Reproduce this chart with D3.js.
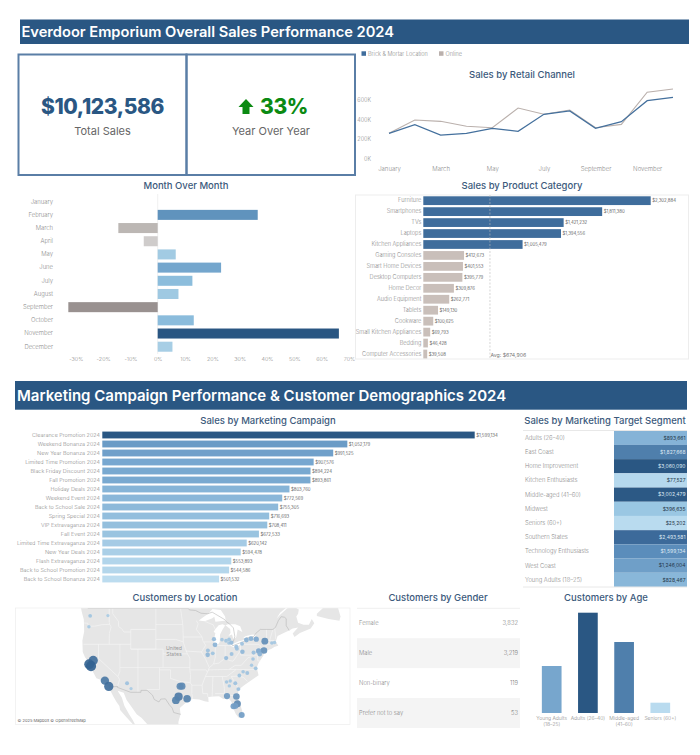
<!DOCTYPE html>
<html><head><meta charset="utf-8">
<script src="https://cdn.jsdelivr.net/npm/d3@7/dist/d3.min.js"></script>
<style>html,body{margin:0;padding:0;background:#fff}svg{display:block}text{font-family:Inter,"Noto Sans",sans-serif}</style>
</head><body><svg id="c" width="700" height="755"></svg>
<script>
const months=["January","February","March","April","May","June","July","August","September","October","November","December"];
const brick=[259,348,242,259,310,280,454,488,310,379,593,627].map(v=>v*1000);
const online=[259,396,382,331,317,518,454,498,317,351,679,713].map(v=>v*1000);
const mom=[null,36.6,-14.4,-5.1,6.6,23.2,12.7,7.6,-32.7,13.2,66.3,5.4];
const products=["Furniture","Smartphones","TVs","Laptops","Kitchen Appliances","Gaming Consoles","Smart Home Devices","Desktop Computers","Home Decor","Audio Equipment","Tablets","Cookware","Small Kitchen Appliances","Bedding","Computer Accessories"];
const productSales=[2302884,1811380,1421232,1394556,1005479,412673,401553,395779,309876,262771,149130,100625,69793,46428,39508];
const productAvg=674906;
const campaigns=["Clearance Promotion 2024","Weekend Bonanza 2024","New Year Bonanza 2024","Limited Time Promotion 2024","Black Friday Discount 2024","Fall Promotion 2024","Holiday Deals 2024","Weekend Event 2024","Back to School Sale 2024","Spring Special 2024","VIP Extravaganza 2024","Fall Event 2024","Limited Time Extravaganza 2024","New Year Deals 2024","Flash Extravaganza 2024","Back to School Promotion 2024","Back to School Bonanza 2024"];
const campaignSales=[1599134,1052179,991525,907576,894224,893861,803760,772569,755305,716693,708411,672533,620142,594478,553893,544586,501532];
const segments=["Adults (26–40)","East Coast","Home Improvement","Kitchen Enthusiasts","Middle-aged (41–60)","Midwest","Seniors (60+)","Southern States","Technology Enthusiasts","West Coast","Young Adults (18–25)"];
const segmentSales=[893661,1827668,3060090,77527,3002479,396635,25202,2493581,1599134,1246004,828467];
const genders=["Female","Male","Non-binary","Prefer not to say"];
const genderCounts=[3832,3219,119,53];
const ages=["Young Adults (18–25)","Adults (26–40)","Middle-aged (41–60)","Seniors (60+)"];
const ageCounts=[1485,3169,2243,326];
// customer locations: [lon, lat, customers]
const cities=[[-122.33,47.61,55],[-117.4,47.66,40],[-122.68,45.52,45],[-121.49,38.58,330],[-122.6,37.77,380],[-122.1,37.34,400],[-118.24,34.05,270],[-117.16,32.72,330],[-112.07,33.45,60],[-110.97,32.22,40],[-97.33,32.75,190],[-96.8,32.78,190],[-97.74,30.27,260],[-98.49,29.42,230],[-95.37,29.76,220],[-87.9,43.04,70],[-87.6,41.9,90],[-85.67,42.96,50],[-84.55,42.73,55],[-83.69,43.01,55],[-83.74,42.28,50],[-83.05,42.33,70],[-81.69,41.5,65],[-81.52,41.08,60],[-80.09,42.13,60],[-78.88,42.89,90],[-77.61,43.16,90],[-76.15,43.05,110],[-73.76,42.65,180],[-71.8,42.26,50],[-71.06,42.36,45],[-74,40.71,170],[-75.47,40.6,110],[-75.16,39.95,90],[-76.88,40.27,65],[-79.99,40.44,80],[-83,39.96,60],[-84.51,39.1,70],[-89.59,40.69,60],[-89.65,39.78,80],[-88.24,40.12,55],[-77.04,38.9,50],[-77.44,37.54,45],[-76.29,36.85,55],[-79.79,36.07,50],[-78.64,35.78,60],[-80.84,35.23,55],[-84.39,33.75,50],[-83.38,33.96,45],[-81.97,33.47,60],[-83.63,32.84,45],[-81.1,32.08,60],[-84.28,30.44,150],[-81.66,30.33,170],[-81.38,28.54,190],[-81.95,28.04,130],[-82.46,27.95,140],[-80.19,25.76,140]];
const landRing=[[-125,51],[-125,49.5],[-124.7,48.4],[-124.1,46.9],[-124,44.6],[-124.5,42.8],[-124.4,40.4],[-123.8,39.3],[-122.5,37.8],[-121.9,36.6],[-120.6,34.6],[-118.5,34],[-117.2,32.6],[-116,30.5],[-115,29],[-114.2,28],[-114,27],[-112.5,25.5],[-110,23],[-109.5,22.8],[-110.5,24.5],[-111.5,26],[-112.8,28],[-113.5,30],[-114.7,31.7],[-113,31.2],[-112.2,29.5],[-110.9,27.9],[-109.4,26],[-108,25],[-106.5,23.5],[-105.5,22],[-105,20],[-97.8,20],[-97.7,22],[-97.8,24],[-97.2,26],[-97.4,27.5],[-96,28.6],[-94.7,29.4],[-93.8,29.7],[-92,29.6],[-90.5,29.2],[-89.4,29],[-89.5,30.2],[-88,30.3],[-86.5,30.4],[-85.3,29.7],[-84,30],[-83,29],[-82.7,27.8],[-81.8,26],[-81,25.1],[-80.3,25.3],[-80,26.7],[-80.6,28.4],[-81.4,30.3],[-81,32],[-79.5,33],[-77.9,33.9],[-76.5,34.7],[-75.5,35.3],[-76,37],[-75.5,38],[-75,38.6],[-74.1,39.7],[-74,40.5],[-72,41],[-71,41.5],[-70,41.7],[-70.7,42.6],[-70.2,43.7],[-68.5,44.3],[-67,44.8],[-66,45.2],[-64.5,45.4],[-66,44.2],[-65.5,43.5],[-64,44.3],[-61,45.2],[-60,46.2],[-60.7,47],[-61.5,45.9],[-63,45.9],[-64.5,46.3],[-65,47.5],[-64.5,48],[-64.3,48.8],[-65.5,49.2],[-67.5,49],[-69.5,47.8],[-70.5,47.1],[-69.5,48.2],[-67.5,49.3],[-66,50.2],[-60,50.3],[-55,51]];
const newfoundland=[[-59.3,47.6],[-56,47],[-53,46.7],[-52.7,47.5],[-53.5,49.3],[-56,50],[-59.3,48]];
const lakes=[[[-92.1,46.75],[-90.5,46.6],[-88.5,47.1],[-87.8,47.45],[-87.5,46.5],[-85,46.7],[-84.6,46.5],[-84.8,47.5],[-86,48.7],[-88.3,48.9],[-89.5,48],[-91,47.3]],
[[-87.6,41.65],[-87,41.7],[-86.3,42.5],[-86.2,44],[-85.5,45],[-84.8,45.75],[-85.5,46],[-86.6,45.8],[-87.6,45],[-88,44.5],[-87.5,44.3],[-87.9,43],[-87.8,42.3]],
[[-84.7,45.8],[-83.4,45.1],[-83.3,44.3],[-83.9,43.7],[-82.9,44],[-82.45,43],[-81.7,43.5],[-81.3,45],[-80,44.5],[-80.6,45.6],[-82,46],[-84,46]],
[[-83.4,41.75],[-82.5,41.4],[-81.5,41.5],[-79,42.7],[-79.5,42.9],[-81,42.65],[-82.5,42.1],[-83.1,42.1]],
[[-79.75,43.3],[-79,43.25],[-76.5,43.5],[-76.2,44],[-77.5,43.95],[-79.2,43.65]]];
const countryLines=[[[-123,49],[-95.15,49],[-94.6,48.7],[-93,48.6],[-91.5,48.1],[-89.6,48],[-88.4,48.3],[-84.9,46.9],[-84.5,46.5],[-83.6,46.1],[-82.5,45.3],[-82.1,43.6],[-82.5,42.6],[-83.1,42.1],[-82.7,41.7],[-78.9,42.8],[-79,43.3],[-76.8,43.6],[-76.3,44.2],[-75,45],[-71.5,45],[-70.8,45.4],[-70.3,46.2],[-70,46.7],[-69.2,47.45],[-68.3,47.35],[-67.8,47.07],[-67.8,45.7],[-67.4,45.3],[-67,44.8]],
[[-117.1,32.53],[-114.7,32.72],[-114.8,32.5],[-111.07,31.33],[-108.2,31.33],[-108.2,31.78],[-106.5,31.78],[-105,30.65],[-104.5,29.6],[-103.2,29],[-102.7,29.7],[-101.4,29.77],[-100.3,28.3],[-99.5,27.5],[-99.1,26.4],[-97.15,25.95]]];
const stateLines=[[[-124,46.25],[-123,46.2],[-122.8,45.65],[-121,45.65],[-119,45.93],[-116.92,46]],[[-117.03,49],[-117.03,46.4],[-116.92,46],[-116.5,45.5],[-117,44.2],[-117.03,42]],[[-124.2,42],[-111.05,42]],[[-120,42],[-120,39],[-114.63,35],[-114.05,36.2],[-114.05,42]],[[-114.63,35],[-114.15,34.3],[-114.7,32.72]],[[-114.05,37],[-94.62,37]],[[-116.05,49],[-116.05,48],[-114.5,46.6],[-114.4,45.55],[-113.5,45.1],[-113,44.5],[-111.05,44.5]],[[-111.05,45],[-104.05,45],[-104.05,41],[-111.05,41],[-111.05,45]],[[-111.05,41],[-109.05,41],[-109.05,31.33]],[[-109.05,41],[-102.05,41],[-102.05,37]],[[-103.04,37],[-103.04,32],[-106.6,32]],[[-103,36.5],[-100,36.5],[-100,34.56],[-97,33.8],[-94.5,33.6]],[[-104.05,49],[-104.05,45]],[[-104.05,45.94],[-96.56,45.94]],[[-104.05,43],[-98.5,43],[-96.45,42.5]],[[-102.05,40],[-95.3,40]],[[-97.2,49],[-96.56,45.94],[-96.45,43.5],[-96.45,42.5],[-95.9,41.2],[-95.3,40],[-94.6,39.1],[-94.62,36.5],[-94.43,35.4],[-94.5,33.6],[-94.04,33],[-94.04,31],[-93.8,29.7]],[[-96.45,43.5],[-91.2,43.5]],[[-95.77,40.58],[-91.4,40.4]],[[-94.62,36.5],[-90.15,36.5],[-89.7,36]],[[-94.04,33],[-91.2,33]],[[-92.8,46.7],[-92.3,46.1],[-92.8,45],[-91.2,43.5],[-91,42.7],[-90.2,41.8],[-91.1,40.7],[-91.4,40.4],[-90.2,38.8],[-89.2,37],[-89.7,36],[-90.3,35],[-91.2,33],[-91,31],[-89.7,31],[-89.6,30.2]],[[-90.65,42.5],[-87.8,42.5]],[[-90.4,46.55],[-88.1,45.9],[-87.6,45.1]],[[-87.53,41.7],[-87.53,39.3],[-88,37.8]],[[-89.2,37],[-88,37.8],[-86.5,38],[-85.4,38.7],[-84.8,39.1],[-83.7,38.6],[-82.6,38.4],[-80.6,40.6]],[[-84.8,41.7],[-84.8,39.1]],[[-87.2,41.76],[-83.4,41.73]],[[-80.52,42],[-80.52,39.72]],[[-79.76,42.27],[-79.76,42],[-75.35,42],[-74.7,41.36],[-73.9,41]],[[-80.52,39.72],[-75.8,39.72],[-75.7,38.46],[-75.05,38.45]],[[-89.5,36.5],[-83.7,36.6],[-81.7,36.6],[-75.9,36.55]],[[-83.7,36.6],[-82,37.5],[-80.3,37.5],[-78.4,39.2],[-77.7,39.3]],[[-90.3,35],[-84.3,35],[-81.7,36.6]],[[-88.2,35],[-88.4,30.3]],[[-85.6,35],[-85,32.3],[-85,31],[-84.9,30.7],[-82.2,30.5],[-81.5,30.7]],[[-87.6,31],[-85,31]],[[-83.1,35],[-81,32.1]],[[-83.1,35],[-81,35.1],[-79.7,34.8],[-78.6,33.9]],[[-73.3,45],[-73.25,42.75],[-73.5,41.1]],[[-71.5,45],[-72.45,42.73]],[[-73.25,42.75],[-71,42.75]],[[-73.5,42.05],[-71.8,42.02]],[[-71,45.3],[-70.7,43.1]]];

const DARK="#2a5783",TITLE="#3c5a7c",LAB="#8c8c8c";
const svg=d3.select("#c");
svg.append("rect").attr("width",700).attr("height",755).attr("fill","#fff");
function T(g,x,y,s,o={}){return g.append("text").attr("x",x).attr("y",y).text(s).attr("font-size",o.size||6).attr("font-weight",o.w||300).attr("fill",o.fill||LAB).attr("text-anchor",o.a||"start").attr("letter-spacing",o.ls||null);}
const title=(x,y,s)=>T(svg,x,y,s,{size:9.5,w:500,fill:TITLE,a:"middle"});
const usd=d=>"$"+d3.format(",")(d);
function styleAxis(g,size,anchorFill){g.select(".domain").remove();g.selectAll(".tick line").remove();g.selectAll("text").attr("font-size",size).attr("font-weight",300).attr("fill",anchorFill||LAB).attr("font-family",'Inter,"Noto Sans",sans-serif');}

// headers
svg.append("rect").attr("x",20).attr("y",19.5).attr("width",669).attr("height",24.5).attr("fill",DARK);
T(svg,21.5,37,"Everdoor Emporium Overall Sales Performance 2024",{size:14.65,w:600,fill:"#fff"});
svg.append("rect").attr("x",15).attr("y",381).attr("width",672).attr("height",28.7).attr("fill",DARK);
T(svg,17,401,"Marketing Campaign Performance & Customer Demographics 2024",{size:15,w:600,fill:"#fff"});

// KPI
[[18.5,168],[186.5,168.5]].forEach(d=>svg.append("rect").attr("x",d[0]).attr("y",54.5).attr("width",d[1]).attr("height",120.5).attr("fill","none").attr("stroke","#5a7ea6").attr("stroke-width",2));
T(svg,102.5,114,"$10,123,586",{size:21,w:800,fill:DARK,a:"middle",ls:-0.4});
T(svg,102.5,134.5,"Total Sales",{size:11,w:400,fill:"#666",a:"middle"});
// up arrow glyph drawn at the KPI's left
svg.append("path").attr("d","M246 99 L253.5 107 L249.5 107 L249.5 114 L242.5 114 L242.5 107 L238.5 107 Z").attr("fill","#0b8a12");
T(svg,260,114,"33%",{size:21,w:800,fill:"#0b8a12",ls:-0.4});
T(svg,271,134.5,"Year Over Year",{size:11,w:400,fill:"#666",a:"middle"});

// Line chart
svg.append("rect").attr("x",361.5).attr("y",51.3).attr("width",4.5).attr("height",4.5).attr("fill","#3f6d9c");
T(svg,368,55.7,"Brick & Mortar Location",{size:5.5});
svg.append("rect").attr("x",439).attr("y",51.3).attr("width",4.5).attr("height",4.5).attr("fill","#bab0ac");
T(svg,445.5,55.7,"Online",{size:5.5});
title(522,77.5,"Sales by Retail Channel");
const lx=d3.scalePoint().domain(months).range([389,673]);
const ly=d3.scaleLinear().domain([0,600000]).range([158.7,100]);
const line=d3.line().x((d,i)=>lx(months[i])).y(d=>ly(d));
svg.append("path").attr("d",line(online)).attr("fill","none").attr("stroke","#bab0ac").attr("stroke-width",1.1);
svg.append("path").attr("d",line(brick)).attr("fill","none").attr("stroke","#44709d").attr("stroke-width",1.2);
styleAxis(svg.append("g").attr("transform","translate(371,0)").call(d3.axisLeft(ly).tickValues([0,200000,400000,600000]).tickFormat(d=>(d/1000)+"K").tickSize(0).tickPadding(0)),5.5);
styleAxis(svg.append("g").attr("transform","translate(0,166.5)").call(d3.axisBottom(lx).tickValues(months.filter((m,i)=>i%2==0)).tickSize(0).tickPadding(0)),6);

// Month over month
title(186,188.5,"Month Over Month");
const mx=d3.scaleLinear().domain([-30,70]).range([157.7-82,157.7+191.3]);
const my=d3.scaleBand().domain(months).range([195.1,353.3]).paddingInner(0.24).paddingOuter(0.12);
const posC=d3.scaleLinear().domain([5,13,23,37,66]).range(["#a8cfe5","#8bbcdc","#74a6cd","#5f92bd","#2a5783"]);
const negC=d3.scaleLinear().domain([-33,-14,-5]).range(["#98908f","#bdb8b5","#cfcccb"]);
svg.append("line").attr("x1",mx(0)).attr("x2",mx(0)).attr("y1",194).attr("y2",354).attr("stroke","#f0f0f0");
svg.append("g").selectAll("rect").data(mom.map((v,i)=>({v,m:months[i]})).filter(d=>d.v!==null)).join("rect")
 .attr("x",d=>Math.min(mx(0),mx(d.v))).attr("width",d=>Math.abs(mx(d.v)-mx(0))).attr("y",d=>my(d.m)).attr("height",my.bandwidth())
 .attr("fill",d=>d.v<0?negC(d.v):posC(d.v));
styleAxis(svg.append("g").attr("transform","translate(53,0)").call(d3.axisLeft(my).tickSize(0).tickPadding(0)),5.9);
styleAxis(svg.append("g").attr("transform","translate(0,356.7)").call(d3.axisBottom(mx).tickValues(d3.range(-30,80,10)).tickFormat(d=>d+"%").tickSize(0).tickPadding(0)),5.4);

// Product category
title(522,188.5,"Sales by Product Category");
const px=d3.scaleLinear().domain([0,2302884]).range([423.3,650.7]);
const py=d3.scaleBand().domain(products).range([195.2,359.5]).paddingInner(0.2).paddingOuter(0.1);
svg.append("rect").attr("x",355.5).attr("y",195).attr("width",333).attr("height",164).attr("fill","none").attr("stroke","#ededed");
svg.append("g").selectAll("rect").data(products).join("rect").attr("x",px(0)).attr("y",d=>py(d)).attr("height",py.bandwidth())
 .attr("width",(d,i)=>px(productSales[i])-px(0)).attr("fill",(d,i)=>productSales[i]>productAvg?"#3f6d9c":"#c9bfba");
svg.append("line").attr("x1",px(productAvg)).attr("x2",px(productAvg)).attr("y1",195).attr("y2",359).attr("stroke","#bbb").attr("stroke-width",.6).attr("stroke-dasharray","2 1.5");
svg.append("g").selectAll("text").data(products).join("text").attr("x",(d,i)=>px(productSales[i])+1.5).attr("y",d=>py(d)+py.bandwidth()/2+1.6)
 .text((d,i)=>usd(productSales[i])).attr("font-size",4.3).attr("font-weight",400).attr("fill","#666");
styleAxis(svg.append("g").attr("transform","translate(421.3,0)").call(d3.axisLeft(py).tickSize(0).tickPadding(0)),5.6);
T(svg,490.5,357,"Avg: "+usd(productAvg),{size:5.2,w:400,fill:"#777"});

// Campaigns
title(268,423.5,"Sales by Marketing Campaign");
const cx=d3.scaleLinear().domain([0,1599134]).range([102.3,474.7]);
const cy=d3.scaleBand().domain(campaigns).range([430.5,583.5]).paddingInner(0.24).paddingOuter(0.12);
const campC=d3.scaleLinear().domain([501532,700000,900000,1052179,1599134]).range(["#bcdcef","#95c0de","#78a8d0","#6a9bc6","#2a5783"]);
svg.append("g").selectAll("rect").data(campaigns).join("rect").attr("x",cx(0)).attr("y",d=>cy(d)).attr("height",cy.bandwidth())
 .attr("width",(d,i)=>cx(campaignSales[i])-cx(0)).attr("fill",(d,i)=>campC(campaignSales[i]));
svg.append("g").selectAll("text").data(campaigns).join("text").attr("x",(d,i)=>cx(campaignSales[i])+1.5).attr("y",d=>cy(d)+cy.bandwidth()/2+1.6)
 .text((d,i)=>usd(campaignSales[i])).attr("font-size",4.3).attr("font-weight",400).attr("fill","#666");
styleAxis(svg.append("g").attr("transform","translate(100,0)").call(d3.axisLeft(cy).tickSize(0).tickPadding(0)),5.45);

// Segment table
title(605,423.5,"Sales by Marketing Target Segment");
const sy=d3.scaleBand().domain(segments).range([430.7,587]);
const segC=d3.scaleLinear().domain([25202,396635,850000,1246004,1599134,1827668,2493581,3060090]).range(["#b9dbef","#9ac7e3","#88b6d9","#6f9fc8","#5b8dbb","#4f7fac","#3c6a9a","#2a5783"]);
svg.append("g").selectAll("rect").data(segments).join("rect").attr("x",614).attr("width",73).attr("y",d=>sy(d)).attr("height",sy.bandwidth()).attr("fill",(d,i)=>segC(segmentSales[i]));
svg.append("g").selectAll("text").data(segments).join("text").attr("x",685.5).attr("y",d=>sy(d)+sy.bandwidth()/2+1.8).attr("text-anchor","end").text((d,i)=>usd(segmentSales[i])).attr("font-size",5).attr("font-weight",400).attr("fill",(d,i)=>segmentSales[i]>=1300000?"#dfe9f3":"#26384a");
svg.append("g").selectAll("line").data([430.5,587]).join("line").attr("x1",523).attr("x2",687).attr("y1",d=>d).attr("y2",d=>d).attr("stroke","#e8e8e8");
styleAxis(svg.append("g").attr("transform","translate(525,0)").call(d3.axisRight(sy).tickSize(0).tickPadding(0)),5.8);

// Map
title(185,601,"Customers by Location");
svg.append("clipPath").attr("id","mapclip").append("rect").attr("x",15.5).attr("y",608).attr("width",334.5).attr("height",116.5);
const mapG=svg.append("g").attr("clip-path","url(#mapclip)");
const proj=d3.geoMercator().scale(206).translate([530,811]);
const ring=d3.line().x(d=>proj(d)[0]).y(d=>proj(d)[1]);
mapG.append("path").attr("d",ring(landRing)+"Z").attr("fill","#e6e6e6");
mapG.append("path").attr("d",ring(newfoundland)+"Z").attr("fill","#e6e6e6");
mapG.append("g").selectAll("path").data(stateLines).join("path").attr("d",ring).attr("fill","none").attr("stroke","#f6f6f6").attr("stroke-width",.6);
mapG.append("g").selectAll("path").data(lakes).join("path").attr("d",d=>ring(d)+"Z").attr("fill","#fff");
mapG.append("g").selectAll("path").data(countryLines).join("path").attr("d",ring).attr("fill","none").attr("stroke","#b4b4b4").attr("stroke-width",.55);
T(mapG,174,650,"United",{size:5.2,w:400,a:"middle",fill:"#999"});
T(mapG,174,656,"States",{size:5.2,w:400,a:"middle",fill:"#999"});
const rS=d3.scaleSqrt().domain([0,400]).range([0,5.1]);
const bC=d3.scaleLinear().domain([40,110,200,400]).range(["#a9cbe4","#7ea8cf","#5a86b0","#336291"]);
mapG.append("g").selectAll("circle").data(cities).join("circle").attr("cx",d=>proj(d)[0]).attr("cy",d=>proj(d)[1]).attr("r",d=>rS(d[2])).attr("fill",d=>bC(d[2])).attr("fill-opacity",.92);
svg.append("rect").attr("x",15.5).attr("y",608).attr("width",334.5).attr("height",116.5).attr("fill","none").attr("stroke","#ededed").attr("stroke-width",.7);
T(svg,17.5,722,"© 2025 Mapbox © OpenStreetMap",{size:4.1,w:400,fill:"#666"});

// Gender table
title(438,601,"Customers by Gender");
const gy=d3.scaleBand().domain(genders).range([608.3,728]);
svg.append("g").selectAll("rect").data(genders.filter((d,i)=>i%2==1)).join("rect").attr("x",357).attr("width",163).attr("y",d=>gy(d)).attr("height",gy.bandwidth()).attr("fill","#f4f4f4");
svg.append("line").attr("x1",357).attr("x2",520).attr("y1",608.3).attr("y2",608.3).attr("stroke","#efefef");
styleAxis(svg.append("g").attr("transform","translate(359,0)").call(d3.axisRight(gy).tickSize(0).tickPadding(0)),5.8);
svg.append("g").selectAll("text").data(genders).join("text").attr("x",518).attr("y",d=>gy(d)+gy.bandwidth()/2+2).attr("text-anchor","end").text((d,i)=>d3.format(",")(genderCounts[i])).attr("font-size",5.8).attr("font-weight",300).attr("fill","#777");

// Age
title(606,601,"Customers by Age");
const ax=d3.scaleBand().domain(ages).range([533.6,678.4]).paddingInner(0.456).paddingOuter(0.228);
const ay=d3.scaleLinear().domain([0,3169]).range([713,612.7]);
const ageC=["#77a6cd","#2a5783","#4f7fac","#b9dbef"];
svg.append("g").selectAll("rect").data(ages).join("rect").attr("x",d=>ax(d)).attr("width",ax.bandwidth()).attr("y",(d,i)=>ay(ageCounts[i])).attr("height",(d,i)=>ay(0)-ay(ageCounts[i])).attr("fill",(d,i)=>ageC[i]);
const ageLines=[["Young Adults","(18–25)"],["Adults (26–40)"],["Middle-aged","(41–60)"],["Seniors (60+)"]];
ages.forEach((d,i)=>ageLines[i].forEach((l,j)=>T(svg,ax(d)+ax.bandwidth()/2,719.5+j*6.8,l,{size:5,a:"middle"})));
</script></body></html>
